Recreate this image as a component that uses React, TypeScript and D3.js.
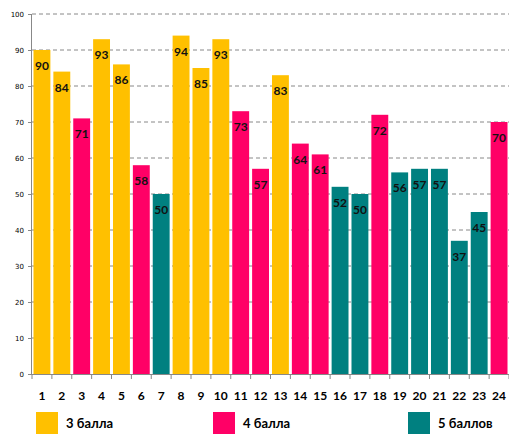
import { useEffect, useRef } from 'react';
import * as d3 from 'd3';

const categories = ['1','2','3','4','5','6','7','8','9','10','11','12','13','14','15','16','17','18','19','20','21','22','23','24'];
const scores = [90, 84, 71, 93, 86, 58, 50, 94, 85, 93, 73, 57, 83, 64, 61, 52, 50, 72, 56, 57, 57, 37, 45, 70];
const grades = [3, 3, 4, 3, 3, 4, 5, 3, 3, 3, 4, 4, 3, 4, 4, 5, 5, 4, 5, 5, 5, 5, 5, 4];
const legendLabels = ['3 балла', '4 балла', '5 баллов'];
const yTicks = [0, 10, 20, 30, 40, 50, 60, 70, 80, 90, 100];

const colorOf: Record<number, string> = { 3: '#FFC000', 4: '#FF0066', 5: '#008080' };

export default function App() {
  const svgRef = useRef<SVGSVGElement>(null);

  useEffect(() => {
    if (!svgRef.current) return;
    const svg = d3.select(svgRef.current);
    svg.selectAll('*').remove();

    const W = 517, H = 446;
    const left = 32, right = 509, top = 14, bottom = 374;
    const font = "Lato, 'DejaVu Sans', sans-serif";

    const x = d3.scaleBand().domain(categories).range([left, right]).paddingInner(0.15).paddingOuter(0.075);
    const y = d3.scaleLinear().domain([0, 100]).range([bottom, top]);

    svg.attr('width', W).attr('height', H);
    svg.append('rect').attr('width', W).attr('height', H).attr('fill', '#fff');

    // grid
    svg.append('g').selectAll('line')
      .data(yTicks.filter(t => t > 0))
      .enter().append('line')
      .attr('x1', left).attr('x2', right)
      .attr('y1', d => y(d)).attr('y2', d => y(d))
      .attr('stroke', '#888').attr('stroke-width', 1)
      .attr('stroke-dasharray', '4,3');

    // y axis
    const ya = svg.append('g').attr('transform', `translate(${left},0)`)
      .call(d3.axisLeft(y).tickValues(yTicks).tickSize(4).tickPadding(4));
    ya.select('.domain').attr('stroke', '#888').attr('d', `M-0.5,${top}V${bottom}`);
    ya.selectAll('.tick line').attr('stroke', '#888');
    ya.selectAll('text').attr('font-family', "'DejaVu Sans', sans-serif").attr('font-size', '7px').attr('fill', '#000');

    // bars
    svg.append('g').selectAll('rect')
      .data(scores)
      .enter().append('rect')
      .attr('x', (_, i) => x(categories[i])!)
      .attr('y', d => y(d))
      .attr('width', x.bandwidth())
      .attr('height', d => y(0) - y(d))
      .attr('fill', (_, i) => colorOf[grades[i]]);

    // value labels
    svg.append('g').selectAll('text')
      .data(scores)
      .enter().append('text')
      .attr('x', (_, i) => x(categories[i])! + x.bandwidth() / 2)
      .attr('y', d => y(d) + 20)
      .attr('text-anchor', 'middle')
      .attr('font-family', font).attr('font-weight', 'bold').attr('font-size', '12px')
      .attr('fill', '#111')
      .text(d => d);

    // x axis
    const xa = svg.append('g');
    xa.append('line').attr('x1', left).attr('x2', right).attr('y1', bottom + 0.5).attr('y2', bottom + 0.5).attr('stroke', '#888');
    const step = x.step();
    xa.selectAll('.xt')
      .data(d3.range(categories.length + 1))
      .enter().append('line')
      .attr('x1', i => left + i * step).attr('x2', i => left + i * step)
      .attr('y1', bottom).attr('y2', bottom + 5)
      .attr('stroke', '#888');
    xa.selectAll('text')
      .data(categories)
      .enter().append('text')
      .attr('x', d => x(d)! + x.bandwidth() / 2)
      .attr('y', 400)
      .attr('text-anchor', 'middle')
      .attr('font-family', font).attr('font-weight', 'bold').attr('font-size', '12px')
      .attr('fill', '#000')
      .text(d => d);

    // legend
    const legendX = [36, 213, 408];
    const lg = svg.append('g').selectAll('g')
      .data(legendLabels)
      .enter().append('g')
      .attr('transform', (_, i) => `translate(${legendX[i]},412)`);
    lg.append('rect').attr('width', 22).attr('height', 22).attr('fill', (_, i) => colorOf[i + 3]);
    lg.append('text')
      .attr('x', 30).attr('y', 16)
      .attr('font-family', font).attr('font-weight', 'bold').attr('font-size', '13px')
      .attr('fill', '#000')
      .text(d => d);
  }, []);

  return (
    <div style={{ margin: -8 }}>
      <svg ref={svgRef} style={{ display: 'block' }} />
    </div>
  );
}
